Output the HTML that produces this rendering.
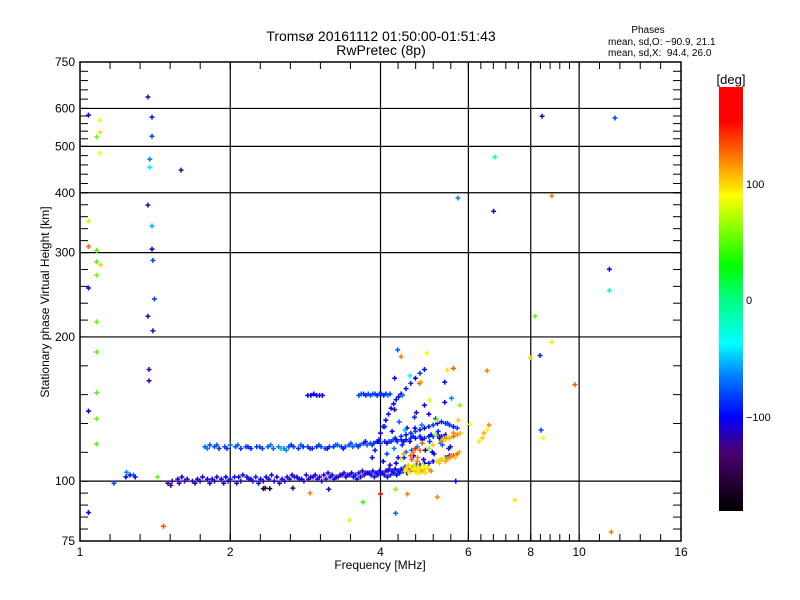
<!DOCTYPE html>
<html><head><meta charset="utf-8"><style>
html,body{margin:0;padding:0;background:#fff;}
svg{display:block;font-family:"Liberation Sans",sans-serif;}
</style></head><body>
<svg id="chart" width="800" height="600" viewBox="0 0 800 600" xmlns="http://www.w3.org/2000/svg">
<defs>
<linearGradient id="cbar" x1="0" y1="1" x2="0" y2="0">
<stop offset="0" stop-color="#000000"/>
<stop offset="0.14" stop-color="#4a0070"/>
<stop offset="0.222" stop-color="#0000ff"/>
<stop offset="0.32" stop-color="#0080ff"/>
<stop offset="0.394" stop-color="#00ffff"/>
<stop offset="0.5" stop-color="#00ff80"/>
<stop offset="0.578" stop-color="#00ff00"/>
<stop offset="0.744" stop-color="#ffff00"/>
<stop offset="0.83" stop-color="#ff8000"/>
<stop offset="0.92" stop-color="#ff0000"/>
<stop offset="1" stop-color="#ff0000"/>
</linearGradient>
</defs>
<text x="381" y="41" font-size="14" text-anchor="middle">Tromsø 20161112 01:50:00-01:51:43</text>
<text x="381" y="55" font-size="14" text-anchor="middle">RwPretec (8p)</text>
<text x="648" y="33" font-size="10" text-anchor="middle">Phases</text>
<text x="608" y="45" font-size="10">mean, sd,O: −90.9, 21.1</text>
<text x="608" y="56" font-size="10" xml:space="preserve">mean, sd,X:  94.4, 26.0</text>
<g id="grid"></g>
<g id="ticks"></g>
<g id="marks"></g>
<rect x="80" y="62" width="601" height="479" fill="none" stroke="#000" stroke-width="1.5"/>
<text x="380" y="569" font-size="12" text-anchor="middle">Frequency [MHz]</text>
<text transform="translate(49,302) rotate(-90)" font-size="12" text-anchor="middle">Stationary phase Virtual Height [km]</text>
<rect x="719" y="87" width="24" height="424" fill="url(#cbar)"/>
<text x="731" y="84" font-size="13" text-anchor="middle">[deg]</text>
<text x="746" y="188" font-size="11">100</text>
<text x="746" y="304" font-size="11">0</text>
<text x="746" y="421" font-size="11">−100</text>
</svg>
<script>
// ---- data ----
const xTickVals = [1, 2, 4, 6, 8, 10, 16];
const yTickVals = [75, 100, 200, 300, 400, 500, 600, 750];
const xGridVals = [2, 4, 6, 8, 10];
const yGridVals = [100, 200, 300, 400, 500, 600];

const lowF = [1.50,1.53,1.57,1.60,1.64,1.68,1.72,1.76,1.80,1.84,1.88,1.92,1.96,2.00,2.04,2.08,2.12,2.16,2.20,2.25,2.30,2.36,2.42,2.48,2.54,2.60,2.66,2.72,2.78,2.84,2.90,2.96,3.02,3.08,3.14,3.20,3.26,3.32,3.38,3.44,3.50,3.56,3.62,3.68,3.74,3.80,3.86,3.92,3.98,4.04,4.10,4.16,4.22,4.28,4.34,4.40,4.48,4.56,4.64,4.72,4.80,4.90,5.00,5.10,5.20,5.30,5.40,5.50];
const lowH = [99,100,101,102,101,100,101,102,101,101,102,101,102,101,102,102,103,102,101,102,101,102,103,102,101,102,103,102,101,103,102,103,102,103,104,103,102,103,104,103,104,103,104,105,104,104,105,104,105,104,105,106,105,106,105,106,107,106,107,108,108,109,109,110,110,111,112,113];
const lowP = [-130,-125,-120,-110,-125,-130,-120,-110,-105,-115,-120,-100,-105,-110,-95,-100,-115,-105,-100,-90,-110,-100,-120,-105,-110,-95,-120,-110,-100,-115,-120,-105,-110,-120,-100,-115,-110,-125,-105,-110,-100,-95,-120,-110,-100,-105,-115,-100,-110,-90,-100,-95,-110,-100,-105,-95,-100,-110,-100,-95,-105,-100,-95,-100,-110,-100,-95,-100];

const low2F = [1.52,1.58,1.62,1.70,1.74,1.82,1.86,1.94,1.98,2.06,2.10,2.18,2.22,2.28,2.33,2.39,2.45,2.51,2.57,2.63,2.69,2.75,2.81,2.87,2.93,2.99,3.05,3.11,3.17,3.23,3.29,3.35,3.41,3.47,3.53,3.59,3.65,3.71,3.77,3.83,3.89,3.95,4.01,4.07,4.13,4.19,4.25,4.31,4.37,4.44,4.52,4.60,4.68];
const low2H = [98,99,100,99,100,99,100,99,100,99,100,101,100,99,100,101,100,99,100,101,102,101,100,101,102,101,100,101,102,101,102,103,102,103,102,101,102,103,104,103,102,103,104,103,102,103,104,103,104,105,104,105,106];
const low2P = [-135,-120,-130,-115,-125,-110,-120,-130,-105,-115,-125,-110,-120,-100,-130,-115,-105,-125,-110,-120,-115,-100,-125,-110,-120,-105,-115,-130,-110,-100,-120,-115,-105,-125,-110,-100,-115,-120,-105,-110,-95,-115,-100,-120,-105,-90,-110,-100,-95,-105,-110,-100,-95];

const midF = [1.78,1.82,1.86,1.90,1.95,2.00,2.05,2.10,2.15,2.20,2.26,2.32,2.38,2.44,2.50,2.56,2.62,2.68,2.74,2.80,2.86,2.92,2.98,3.04,3.10,3.16,3.22,3.28,3.34,3.40,3.46,3.52,3.58,3.64,3.70,3.76,3.82,3.88,3.94,4.00,4.08,4.16,4.24,4.32,4.40,4.50,4.60,4.70,4.80,4.90,5.00,5.10,5.20,5.30,5.40];
const midH = [118,119,118,117,118,119,118,117,118,117,118,117,118,117,118,117,118,118,117,118,118,117,118,118,117,118,118,119,118,118,119,118,119,119,120,119,120,120,121,120,121,121,122,121,122,122,123,123,124,123,124,124,125,124,125];
const midP = [-70,-80,-75,-85,-80,-70,-75,-85,-80,-90,-85,-80,-75,-70,-60,-65,-75,-80,-85,-90,-80,-85,-90,-80,-75,-85,-90,-80,-85,-75,-80,-70,-75,-80,-85,-70,-80,-90,-95,-85,-90,-80,-70,-85,-90,-95,-80,-100,-85,-90,-95,-85,-90,-100,-95];

const mid2F = [1.80,1.88,1.97,2.07,2.17,2.29,2.41,2.53,2.59,2.65,2.77,2.89,3.01,3.13,3.25,3.37,3.49,3.61,3.73,3.85,3.97,4.12,4.28,4.45,4.65,4.85,5.05,5.25];
const mid2H = [117,119,117,119,118,118,119,117,116,119,119,117,119,117,119,117,120,118,121,119,122,120,123,121,124,122,125,123];
const mid2P = [-60,-75,-85,-70,-90,-80,-65,-50,-55,-85,-75,-90,-80,-95,-70,-90,-75,-85,-100,-80,-90,-105,-85,-100,-90,-110,-95,-100];

const upF = [4.2,4.3,4.4,4.5,4.6,4.7,4.8,4.9,5.0,5.1,5.2,5.3,5.4,5.5,5.6,5.7];
const upH = [121,122,124,125,126,127,128,129,130,131,132,133,132,131,130,129];
const upP = [-90,-95,-85,-100,-90,-80,-95,-100,-90,-85,-100,-95,-90,-85,-95,-80];

const stF = [3.85,3.9,3.95,4.0,4.05,4.1,4.15,4.2,4.25,4.3,4.35,4.4,4.5,4.6,4.7,4.8,4.9];
const stH = [112,116,121,126,130,134,138,142,145,148,150,152,156,160,164,168,171];
const stP = [-100,-95,-105,-100,-90,-100,-95,-110,-100,-95,-105,-100,-95,-90,-100,-85,-95];

const tF = [2.86,2.9,2.94,2.98,3.02,3.06,3.62,3.66,3.70,3.74,3.78,3.82,3.86,3.90,3.94,3.98,4.02,4.06,4.10,4.14,4.18];
const tH = [151,151,152,151,151,151,151,152,152,151,152,151,152,152,151,152,152,151,152,151,152];
const tP = [-100,-105,-100,-95,-105,-100,-80,-70,-85,-90,-75,-80,-70,-85,-90,-75,-80,-85,-90,-60,-80];

const wF = [4.50,4.55,4.60,4.65,4.70,4.75,4.80,4.85,4.90,4.95,5.00,4.60,4.65,4.70,4.75,4.80,5.20,5.30,5.40,5.50,5.60,5.70,5.75,5.30,5.40,5.50,5.60,5.70,5.78,6.30,6.40,6.45,6.55,6.60,5.00,5.10,4.40,4.45,4.85,5.15];
const wH = [106,105,107,106,105,107,106,105,106,107,106,113,115,117,112,116,110,111,110,112,113,114,115,121,122,123,124,125,126,121,123,126,128,131,117,119,111,114,120,125];
const wP = [95,110,90,100,120,85,95,110,100,90,105,130,120,140,115,125,95,100,110,120,140,130,110,120,100,110,125,115,105,95,100,110,90,120,60,100,80,110,130,70];

const w2F = [4.48,4.52,4.57,4.62,4.67,4.72,4.77,4.82,4.87,4.92,4.97,5.05,4.55,4.68,4.78,5.25,5.35,5.45,5.55,5.65,5.35,5.45,5.60,4.62,4.74];
const w2H = [105,107,104,106,108,104,107,105,108,104,107,105,108,106,104,109,112,111,113,112,123,124,126,111,110];
const w2P = [90,95,85,100,75,90,95,105,80,95,90,120,100,85,95,100,90,110,120,100,110,95,120,130,120];

const sbF = [4.05,4.12,4.18,4.26,4.34,4.42,4.50,4.58,4.66,4.74,4.82,4.92,5.02,5.12,5.22,5.32,5.42,5.52,4.08,4.22,4.36,4.52,4.68,4.84,5.00,5.16,4.14,4.30,4.46,4.62,4.88,5.08,5.28,5.48];
const sbH = [110,114,108,117,112,119,115,121,113,118,123,116,121,114,127,119,124,118,130,127,133,129,136,131,138,135,105,109,112,116,111,115,120,117];
const sbP = [-100,-80,-120,-60,-100,-90,-70,-110,-100,-60,-90,-120,-80,-100,-90,-70,-100,-110,-90,-100,-70,-110,-90,-60,-100,-80,-120,-100,-90,-70,-110,-100,-60,-90];

const mF = [1.04,1.097,1.097,1.08,1.097,1.04,1.04,1.08,1.08,1.1,1.08,1.04,1.08,1.08,1.08,1.04,1.08,1.08,1.04,
 1.368,1.394,1.394,1.38,1.38,1.368,1.394,1.394,1.4,1.41,1.368,1.4,1.375,1.375,1.594,1.17,1.47,
 1.24,1.26,1.28,1.29,1.236,1.43,
 8.43,11.8,6.78,6.74,5.72,8.82,11.5,11.5,8.16,8.35,8.82,7.98,9.81,6.54,6.04,8.39,8.48,7.44,11.6,
 4.0,4.29,4.53,3.69,5.2,5.66,4.29,3.47,2.35,2.67,2.89,3.15,2.33,2.40,
 4.33,4.4,4.96,5.6,5.45,5.38,4.58,4.27,4.79,4.82,
 4.43,5.02,5.38,5.55,5.73,5.77,4.72,4.9,5.19,5.45,4.27,4.48,4.69];
const mH = [581,567,535,523,484,349,309,303,287,283,269,253,215,186,153,140,135,119.5,86,
 634,575,525,470,452,377,341,305,289,240,221,206,171,162,446,99,80.5,
 104.4,103,103,102,102,102,
 578,573,475,366,390,394,277,250,221,183,195,181,159,170,131.5,127.8,123,91.3,78.3,
 94,96.2,94,90.4,92.6,100,85.7,82.9,96.7,96.7,94.4,96.2,96.5,96.5,
 188,182,185,172,170.6,161,166,164,160,161,
 151,147.6,146,149,134,144,139,144,134,132,141,127.8,129];
const mP = [-100,90,95,50,90,75,125,45,45,100,55,-100,50,45,45,-100,50,45,-100,
 -130,-90,-80,-60,-40,-130,-50,-100,-80,-80,-130,-130,-130,-130,-135,-80,130,
 -60,-100,-70,-95,-100,50,
 -130,-80,-20,-130,-60,120,-100,-20,50,-90,95,100,130,120,90,-80,90,95,120,
 160,60,120,40,120,-100,-70,80,-150,-150,120,-110,-165,-165,
 -70,120,90,130,95,-100,-30,-100,130,110,
 -60,80,-100,-60,100,60,-120,-100,70,-80,-120,-50,-110];

// ---- axes ----
const X0 = 80, X1 = 681, Y0 = 541, Y1 = 62;
const xPx = f => X0 + (X1 - X0) * Math.log2(f) / 4;
const yPx = h => Y0 - (Y0 - Y1) * Math.log10(h / 75) / 1;
const NS = 'http://www.w3.org/2000/svg';

function mk(tag, attrs, parent) {
  const e = document.createElementNS(NS, tag);
  for (const k in attrs) e.setAttribute(k, attrs[k]);
  parent.appendChild(e);
  return e;
}

const stops = [[-180,[0,0,0]],[-140,[80,0,130]],[-100,[0,0,255]],[-60,[0,128,255]],[-38,[0,255,255]],[0,[0,255,128]],[28,[0,255,0]],[88,[255,255,0]],[120,[255,128,0]],[150,[255,0,0]],[180,[255,0,0]]];
function phaseColor(p) {
  for (let i = 1; i < stops.length; i++) {
    if (p <= stops[i][0]) {
      const a = stops[i-1], b = stops[i];
      const t = (p - a[0]) / (b[0] - a[0]);
      const c = a[1].map((v, j) => Math.round(v + (b[1][j] - v) * t));
      return 'rgb(' + c.join(',') + ')';
    }
  }
  return 'rgb(255,0,0)';
}

const grid = document.getElementById('grid');
xGridVals.forEach(v => {
  const l = mk('line', {x1: xPx(v), x2: xPx(v), y1: Y1, y2: Y0, stroke: '#000', 'stroke-width': 1.2}, grid);
  
  
});
yGridVals.forEach(v => {
  const l = mk('line', {x1: X0, x2: X1, y1: yPx(v), y2: yPx(v), stroke: '#000', 'stroke-width': 1.2}, grid);
  
  
});

const ticks = document.getElementById('ticks');
for (let i = 0; i < xTickVals.length; i++) {
  const px = xPx(xTickVals[i]);
  const t = mk('text', {x: px, y: 556, 'font-size': 12, 'text-anchor': 'middle'}, ticks);
  t.textContent = xTickVals[i];
  
  
  if (i < xTickVals.length - 1) {
    const nx = xPx(xTickVals[i+1]);
    for (let k = 0; k <= 5; k++) {
      const p = px + (nx - px) * k / 5;
      mk('line', {x1: p, x2: p, y1: Y0, y2: Y0 - 7, stroke: '#000'}, ticks);
      mk('line', {x1: p, x2: p, y1: Y1, y2: Y1 + 7, stroke: '#000'}, ticks);
    }
  }
}
for (let i = 0; i < yTickVals.length; i++) {
  const py = yPx(yTickVals[i]);
  const t = mk('text', {x: 75, y: py + 4, 'font-size': 12, 'text-anchor': 'end'}, ticks);
  t.textContent = yTickVals[i];
  
  
  if (i < yTickVals.length - 1) {
    const ny = yPx(yTickVals[i+1]);
    for (let k = 0; k <= 5; k++) {
      const p = py + (ny - py) * k / 5;
      mk('line', {x1: X0, x2: X0 + 8, y1: p, y2: p, stroke: '#000'}, ticks);
      mk('line', {x1: X1, x2: X1 - 8, y1: p, y2: p, stroke: '#000'}, ticks);
    }
  }
}

const marks = document.getElementById('marks');
function drawSeries(F, H, P, name) {
  const n = Math.min(F.length, H.length, P.length);
  for (let i = 0; i < n; i++) {
    const x = xPx(F[i]), y = yPx(H[i]);
    const c = phaseColor(P[i]);
    const g = mk('path', {d: 'M' + (x - 2.5) + ' ' + y + 'H' + (x + 2.5) + 'M' + x + ' ' + (y - 2.5) + 'V' + (y + 2.5), stroke: c, 'stroke-width': 1.5, fill: 'none'}, marks);
    
    
  }
}
drawSeries(lowF, lowH, lowP, 'lower-trace-point');
drawSeries(low2F, low2H, low2P, 'lower-trace-point');
drawSeries(midF, midH, midP, 'middle-trace-point');
drawSeries(mid2F, mid2H, mid2P, 'middle-trace-point');
drawSeries(upF, upH, upP, 'upper-branch-point');
drawSeries(stF, stH, stP, 'steep-trace-point');
drawSeries(tF, tH, tP, 'e-layer-trace-point');
drawSeries(sbF, sbH, sbP, 'f-region-scatter-point');
drawSeries(wF, wH, wP, 'x-mode-point');
drawSeries(w2F, w2H, w2P, 'x-mode-point');
drawSeries(mF, mH, mP, 'scattered-point');
</script>
</body></html>
